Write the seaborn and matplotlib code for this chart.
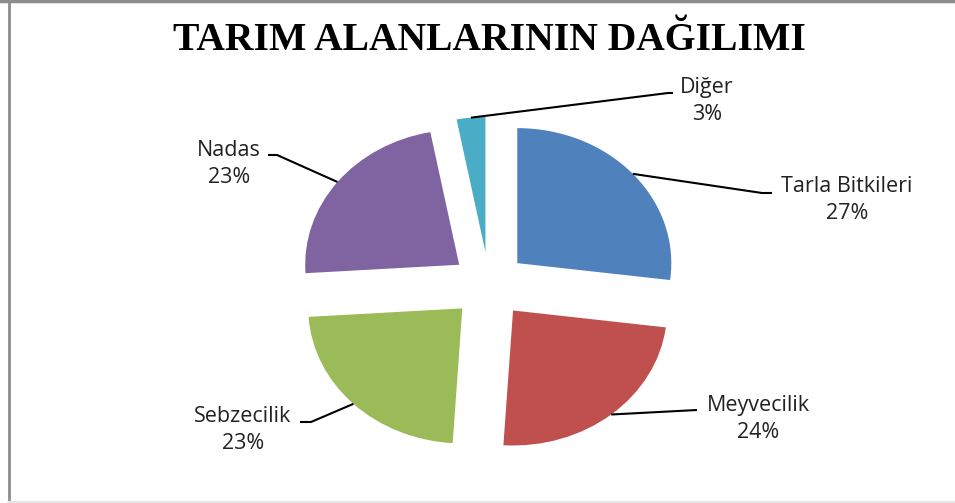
import matplotlib
matplotlib.use("Agg")
import matplotlib.pyplot as plt
import seaborn as sns
import numpy as np

# -------------------------------
# Data
# -------------------------------
categories = ["Tarla Bitkileri", "Meyvecilik", "Sebzecilik", "Nadas", "Diğer"]
shares = [27, 24, 23, 23, 3]
colors = ["#4F81BD", "#C0504D", "#9BBB59", "#8064A2", "#4BACC6"]
title = "TARIM ALANLARININ DAĞILIMI"

# -------------------------------
# Layout (pixels of the 955x503 picture)
# -------------------------------
W, H = 955, 503
cx, cy = 489, 285          # pie centre
rx, ry = 154, 135          # horizontal / vertical radius
explode = 0.245

# text centre and leader-line elbow for each label
label_px = [(847, 200), (758, 419), (243, 430), (229, 164), (707, 101)]
elbow_px = [(762, 193), (697, 410), (311, 422), (277, 155), (668, 93)]
end_px = [(772, 193), (697, 410), (300, 422), (268, 155), (673, 93)]


def to_data(p):
    return ((p[0] - cx) / rx, (cy - p[1]) / ry)


sns.set_theme(style="white")
plt.rcParams["font.family"] = ["Open Sans", "DejaVu Sans"]

fig = plt.figure(figsize=(W / 100, H / 100), dpi=100)
ax = fig.add_axes([0, 0, 1, 1])

wedges, _ = ax.pie(shares, colors=colors, startangle=90, counterclock=False,
                   explode=[explode] * len(shares),
                   wedgeprops=dict(linewidth=0))
ax.set_aspect("auto")
ax.set_xlim(-cx / rx, (W - cx) / rx)
ax.set_ylim(-(H - cy) / ry, cy / ry)
ax.axis("off")

# labels with leader lines
for w, name, val, lp, ep, enp in zip(wedges, categories, shares,
                                      label_px, elbow_px, end_px):
    mid = np.deg2rad((w.theta1 + w.theta2) / 2)
    ax_x = (1 + explode) * np.cos(mid)
    ax_y = (1 + explode) * np.sin(mid)
    ex, ey = to_data(ep)
    nx, ny = to_data(enp)
    ax.plot([ax_x, ex, nx], [ax_y, ey, ny], color="black", lw=1.5,
            solid_capstyle="butt")
    tx, ty = to_data(lp)
    ax.text(tx, ty, f"{name}\n{val}%", ha="center", va="center",
            fontsize=15.5, color="#222222", linespacing=1.35)

# title
fig.text(489 / W, 1 - 40 / H, title, ha="center", va="center",
         fontsize=28.5, fontweight="bold", family="Liberation Serif",
         color="black")

# chart frame (screenshot border)
fig.add_artist(plt.Line2D([0, 1], [1 - 1 / H, 1 - 1 / H], color="#8c8c8c", lw=2.5))
fig.add_artist(plt.Line2D([8.5 / W, 8.5 / W], [0, 1], color="#8c8c8c", lw=2))
fig.add_artist(plt.Line2D([8 / W, 1], [1.5 / H, 1.5 / H], color="#e6e6e6", lw=1.5))

fig.savefig("out.png", dpi=100)
